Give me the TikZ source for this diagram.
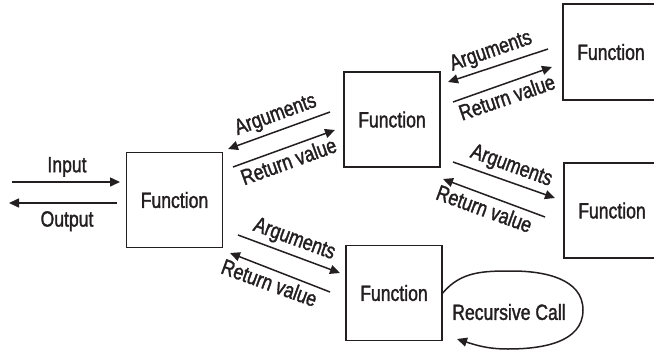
\documentclass[tikz,border=0pt]{standalone}
\usepackage{fontspec}
\setmainfont[FakeStretch=0.8,FakeBold=1.5]{Liberation Sans}
\usetikzlibrary{arrows.meta,calc}
\definecolor{ink}{RGB}{35,31,32}
\begin{document}
\begin{tikzpicture}[x=1pt,y=1pt,
  fbox/.style={draw=ink, line width=1.5pt, minimum width=96pt, minimum height=95pt, inner sep=0pt, text=ink, font=\fontsize{22}{25}\selectfont},
  lbl/.style={text=ink, font=\fontsize{22}{25}\selectfont, inner sep=0pt},
  slbl/.style={text=ink, font=\fontsize{22}{25}\selectfont, inner sep=5pt},
  arr/.style={draw=ink, line width=1.5pt, -{Triangle[length=10pt,width=9pt]}},
]
\useasboundingbox (0,0) rectangle (654,-351);
\clip (0,0) rectangle (654,-351);

% boxes
\node[fbox] (b1) at (174.5,-200) {Function};
\node[fbox] (b2) at (392,-119.5) {Function};
\node[fbox, minimum height=96pt] (b3) at (611,-52) {Function};
\node[fbox] (b4) at (612,-210.5) {Function};
\node[fbox] (b5) at (394,-293) {Function};

% input / output
\coordinate (inS) at (12,-182);
\coordinate (inE) at (120,-182);
\coordinate (outS) at (117,-203);
\coordinate (outE) at (9,-203);
\draw[arr] (inS) -- (inE);
\draw[arr] (outS) -- (outE);
\node[lbl, anchor=south] (lin) at (67,-177) {Input};
\node[lbl, anchor=north] (lout) at (67,-211) {Output};

% b1 <-> b2
\coordinate (a12S) at (330,-112);
\coordinate (a12E) at (228,-149);
\coordinate (r12S) at (233,-167);
\coordinate (r12E) at (335,-130);
\draw[arr] (a12S) -- (a12E);
\draw[arr] (r12S) -- (r12E);
\node[slbl, rotate=20, anchor=south] (la12) at ($(a12S)!0.48!(a12E)$) {Arguments};
\node[slbl, rotate=20, anchor=north] (lr12) at ($(r12S)!0.5!(r12E)$) {Return value};

% b2 <-> b3
\coordinate (a23S) at (548,-49);
\coordinate (a23E) at (448,-82);
\coordinate (r23S) at (453,-102);
\coordinate (r23E) at (552,-67);
\draw[arr] (a23S) -- (a23E);
\draw[arr] (r23S) -- (r23E);
\node[slbl, rotate=19, anchor=south] (la23) at ($(a23S)!0.52!(a23E)$) {Arguments};
\node[slbl, rotate=19, anchor=north] (lr23) at ($(r23S)!0.5!(r23E)$) {Return value};

% b2 <-> b4
\coordinate (a24S) at (453,-162);
\coordinate (a24E) at (555,-198);
\coordinate (r24S) at (545,-217);
\coordinate (r24E) at (443,-179);
\draw[arr] (a24S) -- (a24E);
\draw[arr] (r24S) -- (r24E);
\node[slbl, rotate=-20, anchor=south] (la24) at ($(a24S)!0.52!(a24E)$) {Arguments};
\node[slbl, rotate=-20, anchor=north] (lr24) at ($(r24S)!0.55!(r24E)$) {Return value};

% b1 <-> b5
\coordinate (a15S) at (238,-235);
\coordinate (a15E) at (340,-273);
\coordinate (r15S) at (330,-292);
\coordinate (r15E) at (230,-253);
\draw[arr] (a15S) -- (a15E);
\draw[arr] (r15S) -- (r15E);
\node[slbl, rotate=-20, anchor=south] (la15) at ($(a15S)!0.5!(a15E)$) {Arguments};
\node[slbl, rotate=-20, anchor=north] (lr15) at ($(r15S)!0.56!(r15E)$) {Return value};

% recursive call
\coordinate (rcT) at (512,-271);
\coordinate (rcR) at (583,-310);
\coordinate (rcB) at (508,-349);
\coordinate (rcE) at (457,-339);
\draw[arr] (b5.east) to[out=50,in=180] (rcT) to[out=0,in=90] (rcR)
  to[out=-90,in=0] (rcB) to[out=180,in=-18] (rcE);
\node[lbl] (lrc) at (509,-312) {Recursive Call};
\end{tikzpicture}
\end{document}
